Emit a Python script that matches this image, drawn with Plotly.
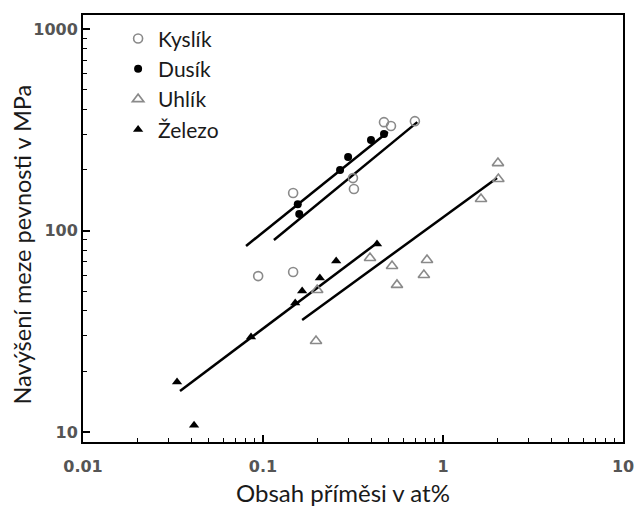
import plotly.graph_objects as go

# Kyslík (oxygen) - open circles
kys_x = [0.094, 0.147, 0.147, 0.316, 0.32, 0.47, 0.514, 0.698]
kys_y = [59.4, 62.2, 153.5, 182, 160.7, 345, 330, 349]
# Dusík (nitrogen) - filled circles
dus_x = [0.156, 0.159, 0.268, 0.297, 0.398, 0.47]
dus_y = [135, 120.7, 199.6, 231.5, 281, 301]
# Uhlík (carbon) - open triangles
uhl_x = [0.197, 0.2, 0.393, 0.521, 0.555, 0.783, 0.815, 1.626, 2.02, 2.03]
uhl_y = [28.3, 50.7, 73, 66.7, 53.7, 60.1, 71.4, 143.3, 216, 180]
# Železo (iron) - filled triangles
zel_x = [0.0333, 0.0414, 0.0858, 0.151, 0.165, 0.207, 0.255, 0.43]
zel_y = [17.7, 10.8, 29.6, 43.7, 50.1, 58.1, 70.6, 85.7]

# regression lines (end points)
fit_lines = [
    ([0.0805, 0.494], [83.8, 308]),
    ([0.115, 0.72], [89.7, 345]),
    ([0.0346, 0.43], [16.0, 86.7]),
    ([0.165, 1.995], [36.0, 182]),
]

x_ticks = [0.01, 0.1, 1, 10]
x_ticklabels = ["0.01", "0.1", "1", "10"]
y_ticks = [10, 100, 1000]
y_ticklabels = ["10", "100", "1000"]

x_title = "Obsah příměsi v at%"
y_title = "Navýšení meze pevnosti v MPa"

fig = go.Figure()

for lx, ly in fit_lines:
    fig.add_trace(go.Scatter(x=lx, y=ly, mode="lines",
                             line=dict(color="black", width=2.5),
                             showlegend=False, hoverinfo="skip"))

fig.add_trace(go.Scatter(x=kys_x, y=kys_y, mode="markers", name="Kyslík", legendgroup="a",
                         marker=dict(symbol="circle-open", size=9, color="#8a8a8a",
                                     line=dict(width=1.6, color="#8a8a8a"))))
fig.add_trace(go.Scatter(x=dus_x, y=dus_y, mode="markers", name="Dusík", legendgroup="b",
                         marker=dict(symbol="circle", size=8, color="black")))
fig.add_trace(go.Scatter(x=uhl_x, y=uhl_y, mode="markers", name="Uhlík", legendgroup="c",
                         marker=dict(symbol="triangle-up-open", size=10, color="#8a8a8a",
                                     line=dict(width=1.6, color="#8a8a8a"))))
fig.add_trace(go.Scatter(x=zel_x, y=zel_y, mode="markers", name="Železo", legendgroup="d",
                         marker=dict(symbol="triangle-up", size=9, color="black")))

fig.update_layout(
    width=637, height=506,
    margin=dict(l=83, r=14, t=15, b=64, autoexpand=False),
    paper_bgcolor="white", plot_bgcolor="white",
    font=dict(family="Lato", color="#1a1a1a"),
    legend=dict(x=0.065, y=0.992, xanchor="left", yanchor="top",
                font=dict(family="Lato", size=21, color="#1a1a1a"),
                bgcolor="rgba(0,0,0,0)", tracegroupgap=0, itemwidth=30),
    showlegend=True,
    annotations=[
        dict(text=x_title, xref="paper", yref="paper", x=0.4815, y=-0.119,
             xanchor="center", yanchor="middle", showarrow=False,
             font=dict(family="Lato", size=24, color="#1a1a1a")),
        dict(text=y_title, xref="paper", yref="paper", x=-0.113, y=0.4625,
             xanchor="center", yanchor="middle", showarrow=False, textangle=-90,
             font=dict(family="Lato", size=23.5, color="#1a1a1a")),
    ],
)

fig.update_xaxes(
    type="log", range=[-2, 1], automargin=False,
    tickvals=x_ticks, ticktext=x_ticklabels,
    ticks="inside", ticklen=7, tickwidth=1.5, tickcolor="black",
    minor=dict(ticks="inside", ticklen=4, tickwidth=1.2, tickcolor="black", dtick="D1", showgrid=False),
    showline=True, linecolor="black", linewidth=2, mirror=True,
    showgrid=False, zeroline=False, ticklabelstandoff=9,
    tickfont=dict(family="DejaVu Sans", size=16, color="#555555", weight="bold"),
)
fig.update_yaxes(
    type="log", range=[0.9504, 3.0695], automargin=False,
    tickvals=y_ticks, ticktext=y_ticklabels,
    ticks="inside", ticklen=7, tickwidth=1.5, tickcolor="black",
    minor=dict(ticks="inside", ticklen=4, tickwidth=1.2, tickcolor="black", dtick="D1", showgrid=False),
    showline=True, linecolor="black", linewidth=2, mirror=True,
    showgrid=False, zeroline=False, ticklabelstandoff=0,
    tickfont=dict(family="DejaVu Sans", size=16, color="#555555", weight="bold"),
)

fig.write_html("out.html", config={"displayModeBar": False},
               post_script="document.body.style.margin='0';document.body.style.overflow='hidden';")
